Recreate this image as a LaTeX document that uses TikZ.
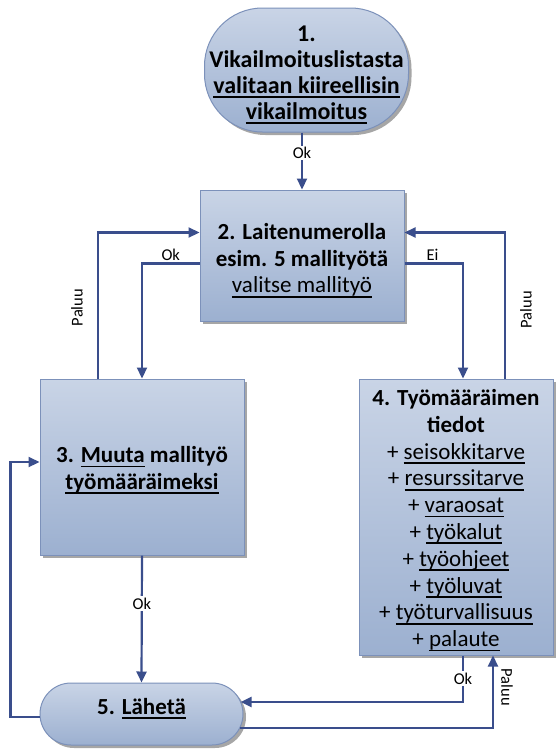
\documentclass[tikz,border=0pt]{standalone}
\usepackage{fontspec}
\setmainfont{Carlito}
\usetikzlibrary{calc,shadows,arrows.meta}

\definecolor{boxtop}{RGB}{201,212,230}
\definecolor{boxbot}{RGB}{156,176,208}
\definecolor{boxline}{RGB}{124,145,186}
\definecolor{flow}{RGB}{58,78,140}

% Word-style underline that runs through descenders
\newcommand\ulx[1]{\leavevmode\setbox0\hbox{#1}\rlap{\smash{\rule[-0.2em]{\wd0}{0.08em}}}\box0\relax}
% invisible struts that set the vertical placement of a text block
\newcommand\sth[1]{\rule{0pt}{#1}}
\newcommand\std[1]{\rule[-#1]{0pt}{#1}}
\newcommand\bigtxt{\fontsize{23}{26.8}\selectfont}
\newcommand\toptxt{\fontsize{24}{26}\selectfont}
\newcommand\lbltxt{\fontsize{16.5}{19}\selectfont}

\begin{document}
\begin{tikzpicture}[x=1pt,y=-1pt,
  box/.style={draw=boxline, line width=1pt, top color=boxtop, bottom color=boxbot,
    drop shadow={shadow xshift=3pt, shadow yshift=-3pt, fill=black, opacity=.35},
    align=center, inner sep=0pt, font=\bigtxt},
  conn/.style={draw=flow, line width=2.2pt, -{Triangle[length=11pt,width=10pt]}},
  lbl/.style={font=\lbltxt, inner sep=1.5pt, text=black}]

\fill[white] (0,0) rectangle (559,750);
\useasboundingbox (0,0) rectangle (559,750);

% process steps
\node[box, font=\toptxt, rounded corners=58pt, minimum width=204pt, minimum height=124pt] (n1) at (306.5,70)
  {\bfseries\sth{21pt}1.\\ \bfseries Vikailmoituslistasta\\ \bfseries\ulx{valitaan kiireellisin}\\ \bfseries\ulx{vikailmoitus}};
\node[box, minimum width=204pt, minimum height=131pt] (n2) at (302,255.5)
  {\bfseries\sth{25pt}2. Laitenumerolla\\ \bfseries esim. 5 mallityötä\\ \ulx{valitse mallityö}};
\node[box, minimum width=204pt, minimum height=176pt] (n3) at (142,467)
  {\bfseries\sth{22pt}3. \ulx{Muuta} mallityö\\ \bfseries\ulx{työmääräimeksi}};
\node[box, minimum width=194pt, minimum height=276pt] (n4) at (456,517)
  {\bfseries\sth{22pt}4. Työmääräimen\\ \bfseries tiedot\\
   + \ulx{seisokkitarve}\\ + \ulx{resurssitarve}\\ + \ulx{varaosat}\\ + \ulx{työkalut}\\
   + \ulx{työohjeet}\\ + \ulx{työluvat}\\ + \ulx{työturvallisuus}\\ + \ulx{palaute}};
\node[box, rounded corners=31pt, minimum width=203pt, minimum height=62pt] (n5) at (141.5,714)
  {\bfseries 5. \ulx{Lähetä}\std{16pt}};

% connectors
\draw[conn] (n1.south -| n2.north) -- node[lbl, fill=white, pos=.36] {Ok} (n2.north);

\draw[conn] ($(n3.north)+(-44,0)$) |- node[lbl, pos=.243, xshift=-21pt, rotate=90] {Paluu}
  ($(n2.west)+(0,-23)$);
\draw[conn] ($(n2.west)+(0,8)$) -| node[lbl, pos=.25, above] {Ok} (n3.north);

\draw[conn] ($(n2.east)+(0,8)$) -| node[lbl, pos=.24, above] {Ei} ($(n4.north)+(7,0)$);
\draw[conn] ($(n4.north)+(49,0)$) |- node[lbl, pos=.236, xshift=21pt, rotate=90] {Paluu}
  ($(n2.east)+(0,-23)$);

\draw[conn] (n3.south) -- node[lbl, fill=white, pos=.38] {Ok} (n5.north);

\draw[conn] ($(n5.west)+(0,3)$) -- ++(-29,0) |- ($(n3.west)+(0,-5)$);

\draw[conn] ($(n4.south)+(7,0)$) |- node[lbl, fill=white, pos=.25] {Ok} ($(n5.east)+(-2.9,-12)$);
\draw[conn] ($(n5.east)+(-3.3,14)$) -| node[lbl, pos=.78, xshift=14pt, rotate=-90] {Paluu}
  ($(n4.south)+(37,0)$);
\end{tikzpicture}
\end{document}
